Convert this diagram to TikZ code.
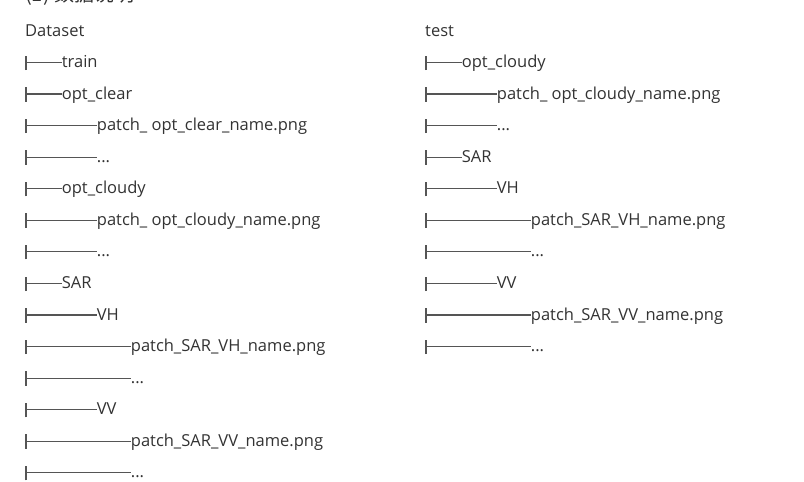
\documentclass[tikz,border=0pt]{standalone}
\usepackage{fontspec}
\setmainfont{Open Sans}
\newfontfamily\cjk{Noto Sans CJK SC}
\definecolor{ink}{HTML}{333333}
\definecolor{rulegray}{HTML}{555555}
\newcommand\tick[1]{\ifcase#1\or\branch{35pt}\or\branch{70pt}\or\branch{104pt}\fi}
\newcommand\branch[1]{\textcolor{rulegray}{\rule[-2.5pt]{1.7pt}{14.5pt}\rule[4.5pt]{#1}{1.2pt}}}
\newcommand\more{...}

\begin{document}
\begin{tikzpicture}[x=1pt,y=-1pt,
   every node/.style={anchor=base west,inner sep=0pt,text=ink,
     font=\fontsize{16.5}{20}\selectfont}]
\fill[white] (0,0) rectangle (804,482);
\useasboundingbox (0,0) rectangle (804,482);
\clip (0,0) rectangle (804,482);
\node[font=\cjk\fontsize{20}{24}\selectfont] (head) at (25,1.5) {(1) 数据说明};
\foreach \lv/\lbl [count=\i from 0] in {0/Dataset,1/train,1/opt\_clear,
    2/patch\_ opt\_clear\_name.png,2/\more,1/opt\_cloudy,
    2/patch\_ opt\_cloudy\_name.png,2/\more,1/SAR,2/VH,
    3/patch\_SAR\_VH\_name.png,3/\more,2/VV,3/patch\_SAR\_VV\_name.png,3/\more}
  \node (data\i) at (25,36+31.57*\i) {\tick{\lv}\lbl};
\foreach \lv/\lbl [count=\i from 0] in {0/test,1/opt\_cloudy,
    2/patch\_ opt\_cloudy\_name.png,2/\more,1/SAR,2/VH,
    3/patch\_SAR\_VH\_name.png,3/\more,2/VV,3/patch\_SAR\_VV\_name.png,3/\more}
  \node (test\i) at (425,36+31.57*\i) {\tick{\lv}\lbl};
\end{tikzpicture}
\end{document}
